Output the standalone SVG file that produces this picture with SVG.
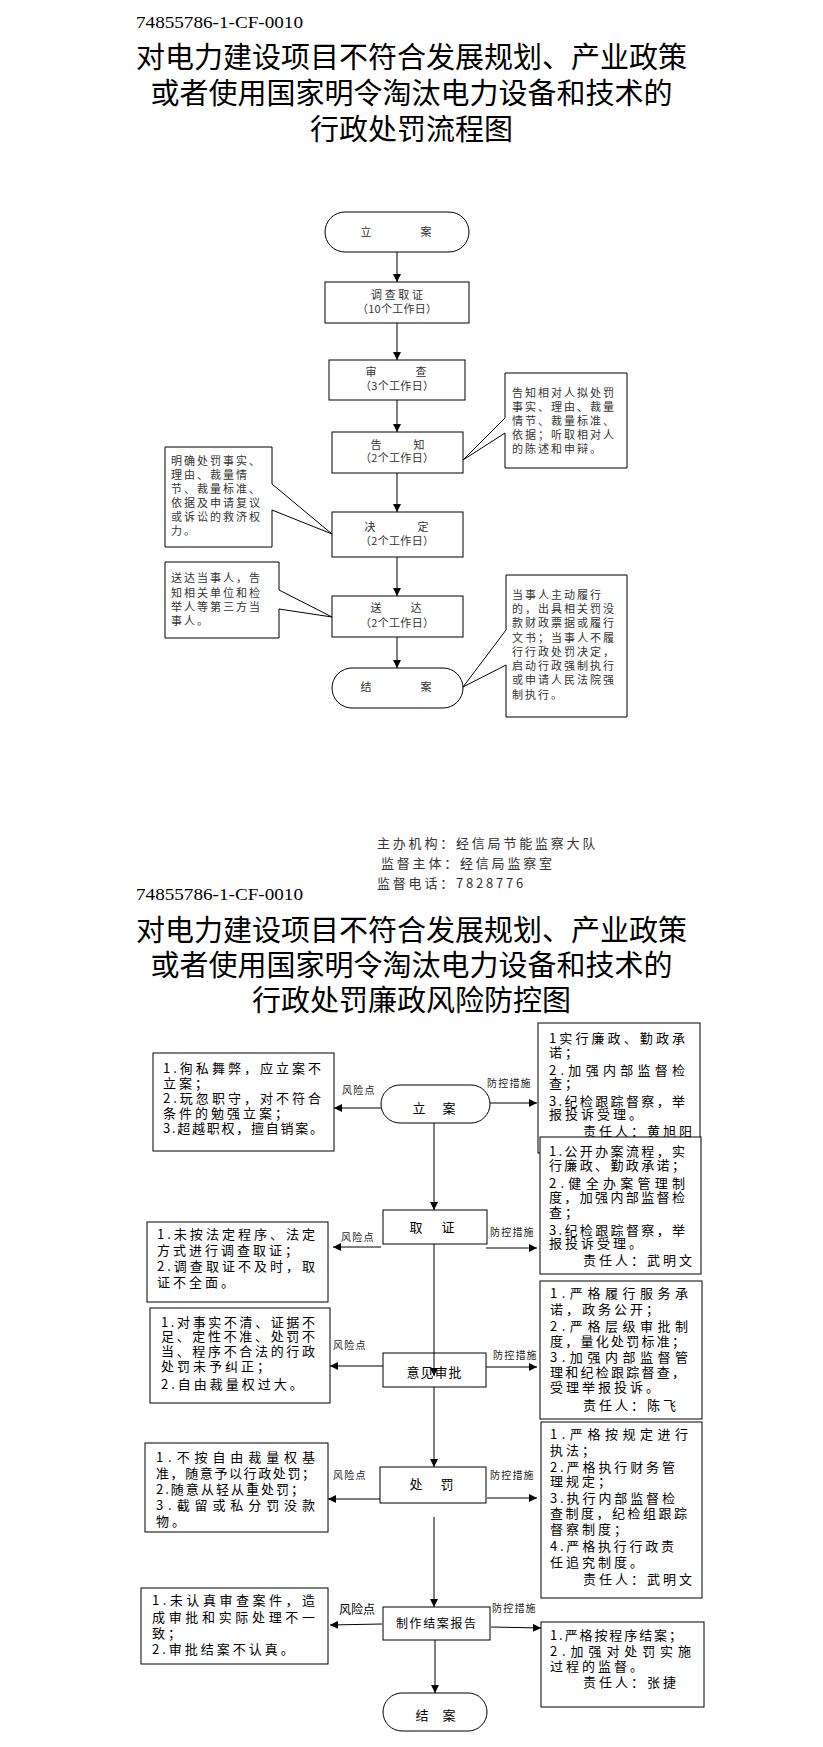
<svg xmlns="http://www.w3.org/2000/svg" width="823" height="1747" viewBox="0 0 823 1747">
<defs>
<style>
.cjk{font-family:"Noto Sans CJK SC",sans-serif}
.id{font-family:"Liberation Serif",serif;font-size:17px;fill:#000}
.ti{font-family:"Noto Sans CJK SC",sans-serif;font-size:29px;fill:#000;text-anchor:middle}
.bx{fill:#fff;stroke:#000;stroke-width:1}
.ln{fill:none;stroke:#000;stroke-width:1}
.t1{font-family:"Noto Sans CJK SC",sans-serif;font-size:11px;fill:#333;letter-spacing:2px}
.t1c{font-family:"Noto Sans CJK SC",sans-serif;font-size:11px;fill:#333;text-anchor:middle}
.ft{font-family:"Noto Sans CJK SC",sans-serif;font-size:13px;fill:#333;letter-spacing:2.8px}
.t2{font-family:"Noto Sans CJK SC",sans-serif;font-size:13px;fill:#000;letter-spacing:3px}
.lb{font-family:"Noto Sans CJK SC",sans-serif;font-size:13px;fill:#000;text-anchor:middle}
.sm{font-family:"Noto Sans CJK SC",sans-serif;font-size:10px;fill:#222;letter-spacing:1.2px}
</style>
<marker id="ah" viewBox="0 0 10 10" refX="10" refY="5" markerWidth="8" markerHeight="8" markerUnits="userSpaceOnUse" orient="auto"><path d="M0,0 L10,5 L0,10 z" fill="#000"/></marker>
</defs>
<rect width="823" height="1747" fill="#fff"/>

<!-- Page 1 header -->
<text class="id" x="136" y="28" textLength="167" lengthAdjust="spacingAndGlyphs">74855786-1-CF-0010</text>
<text class="ti" x="411.5" y="68">对电力建设项目不符合发展规划、产业政策</text>
<text class="ti" x="411.5" y="104">或者使用国家明令淘汰电力设备和技术的</text>
<text class="ti" x="411.5" y="140">行政处罚流程图</text>

<!-- Flow chart 1 nodes -->
<g id="f1-lian">
<rect class="bx" x="325" y="212" width="144" height="40" rx="20"/>
<text class="t1c" x="366" y="236">立</text><text class="t1c" x="426" y="236">案</text>
</g>
<g id="f1-diaocha">
<rect class="bx" x="325" y="282" width="144" height="41"/>
<text class="t1c" x="397" y="299" textLength="52">调查取证</text>
<text class="t1c" x="397" y="313" textLength="80">（10个工作日）</text>
</g>
<g id="f1-shencha">
<rect class="bx" x="329" y="360" width="136" height="40"/>
<text class="t1c" x="371" y="376">审</text><text class="t1c" x="421" y="376">查</text>
<text class="t1c" x="397" y="390" textLength="74">（3个工作日）</text>
</g>
<g id="f1-gaozhi">
<rect class="bx" x="332" y="432" width="131" height="41"/>
<text class="t1c" x="376" y="449">告</text><text class="t1c" x="419" y="449">知</text>
<text class="t1c" x="397" y="462" textLength="74">（2个工作日）</text>
</g>
<g id="f1-note-gaozhi">
<path class="bx" d="M505,373 H627 V468 H505 V433 L463,460 L505,418 Z"/>
<text class="t1" x="512" y="397">告知相对人拟处罚</text>
<text class="t1" x="512" y="411">事实、理由、裁量</text>
<text class="t1" x="512" y="425">情节、裁量标准、</text>
<text class="t1" x="512" y="439">依据；听取相对人</text>
<text class="t1" x="512" y="453">的陈述和申辩。</text>
</g>
<g id="f1-jueding">
<rect class="bx" x="332" y="512" width="131" height="45"/>
<text class="t1c" x="370" y="531">决</text><text class="t1c" x="423" y="531">定</text>
<text class="t1c" x="397" y="545" textLength="74">（2个工作日）</text>
</g>
<g id="f1-note-jueding">
<path class="bx" d="M165,447 H272 V484 L332,534 L272,510 V547 H165 Z"/>
<text class="t1" x="171" y="465">明确处罚事实、</text>
<text class="t1" x="171" y="479">理由、裁量情</text>
<text class="t1" x="171" y="493">节、裁量标准、</text>
<text class="t1" x="171" y="507">依据及申请复议</text>
<text class="t1" x="171" y="521">或诉讼的救济权</text>
<text class="t1" x="171" y="535">力。</text>
</g>
<g id="f1-songda">
<rect class="bx" x="332" y="596" width="131" height="41"/>
<text class="t1c" x="376" y="612">送</text><text class="t1c" x="416" y="612">达</text>
<text class="t1c" x="397" y="627" textLength="74">（2个工作日）</text>
</g>
<g id="f1-note-songda">
<path class="bx" d="M165,562 H279 V590 L332,617 L279,609 V638 H165 Z"/>
<text class="t1" x="171" y="582">送达当事人，告</text>
<text class="t1" x="171" y="597">知相关单位和检</text>
<text class="t1" x="171" y="611">举人等第三方当</text>
<text class="t1" x="171" y="625">事人。</text>
</g>
<g id="f1-jiean">
<rect class="bx" x="332" y="668" width="131" height="40" rx="20"/>
<text class="t1c" x="366" y="691">结</text><text class="t1c" x="426" y="691">案</text>
</g>
<g id="f1-note-jiean">
<path class="bx" d="M506,575 H627 V717 H506 V665 L463,687 L506,630 Z"/>
<text class="t1" x="512" y="599">当事人主动履行</text>
<text class="t1" x="512" y="613">的，出具相关罚没</text>
<text class="t1" x="512" y="627">款财政票据或履行</text>
<text class="t1" x="512" y="642">文书；当事人不履</text>
<text class="t1" x="512" y="656">行行政处罚决定，</text>
<text class="t1" x="512" y="670">启动行政强制执行</text>
<text class="t1" x="512" y="684">或申请人民法院强</text>
<text class="t1" x="512" y="699">制执行。</text>
</g>

<!-- Flow chart 1 connectors -->
<g id="f1-connectors">
<line class="ln" x1="397" y1="252" x2="397" y2="282" marker-end="url(#ah)"/>
<line class="ln" x1="397" y1="323" x2="397" y2="360" marker-end="url(#ah)"/>
<line class="ln" x1="397" y1="400" x2="397" y2="432" marker-end="url(#ah)"/>
<line class="ln" x1="397" y1="473" x2="397" y2="512" marker-end="url(#ah)"/>
<line class="ln" x1="397" y1="557" x2="397" y2="596" marker-end="url(#ah)"/>
<line class="ln" x1="397" y1="637" x2="397" y2="668" marker-end="url(#ah)"/>
</g>

<!-- Footer -->
<g id="footer">
<text class="ft" x="377" y="848">主办机构：经信局节能监察大队</text>
<text class="ft" x="381" y="868">监督主体：经信局监察室</text>
<text class="ft" x="377" y="888">监督电话：7828776</text>
</g>

<!-- Page 2 header -->
<text class="id" x="136" y="900" textLength="167" lengthAdjust="spacingAndGlyphs">74855786-1-CF-0010</text>
<text class="ti" x="411.5" y="941">对电力建设项目不符合发展规划、产业政策</text>
<text class="ti" x="411.5" y="976">或者使用国家明令淘汰电力设备和技术的</text>
<text class="ti" x="411.5" y="1011">行政处罚廉政风险防控图</text>

<!-- Risk chart nodes -->
<g id="r-lian">
<rect class="bx" x="381" y="1085" width="109" height="38" rx="19"/>
<text class="lb" x="419" y="1113">立</text><text class="lb" x="449" y="1113">案</text>
</g>
<g id="r-risk1">
<rect class="bx" x="153" y="1053" width="181" height="98"/>
<text class="t2" x="163" y="1073" textLength="161">1.徇私舞弊，应立案不</text>
<text class="t2" x="163" y="1088">立案；</text>
<text class="t2" x="163" y="1103" textLength="161">2.玩忽职守，对不符合</text>
<text class="t2" x="163" y="1118">条件的勉强立案；</text>
<text class="t2" x="163" y="1133" textLength="163">3.超越职权，擅自销案。</text>
</g>
<g id="r-ctrl1">
<rect class="bx" x="538" y="1023" width="162" height="130"/>
<text class="t2" x="549" y="1043" textLength="139">1实行廉政、勤政承</text>
<text class="t2" x="549" y="1057">诺；</text>
<text class="t2" x="549" y="1075" textLength="139">2.加强内部监督检</text>
<text class="t2" x="549" y="1088">查；</text>
<text class="t2" x="549" y="1106" textLength="139">3.纪检跟踪督察，举</text>
<text class="t2" x="549" y="1119">报投诉受理。</text>
<text class="t2" x="583" y="1136">责任人：黄旭阳</text>
</g>
<g id="r-ctrl2">
<rect class="bx" x="540" y="1137" width="161" height="137"/>
<text class="t2" x="549" y="1156" textLength="139">1.公开办案流程，实</text>
<text class="t2" x="549" y="1170" textLength="139">行廉政、勤政承诺；</text>
<text class="t2" x="549" y="1188" textLength="139">2.健全办案管理制</text>
<text class="t2" x="549" y="1202" textLength="139">度，加强内部监督检</text>
<text class="t2" x="549" y="1217">查；</text>
<text class="t2" x="549" y="1235" textLength="139">3.纪检跟踪督察，举</text>
<text class="t2" x="549" y="1248">报投诉受理。</text>
<text class="t2" x="583" y="1265">责任人：武明文</text>
</g>
<g id="r-quzheng">
<rect class="bx" x="383" y="1210" width="104" height="34"/>
<text class="lb" x="416" y="1232">取</text><text class="lb" x="448" y="1232">证</text>
</g>
<g id="r-risk2">
<rect class="bx" x="147" y="1222" width="181" height="80"/>
<text class="t2" x="157" y="1239" textLength="161">1.未按法定程序、法定</text>
<text class="t2" x="157" y="1255">方式进行调查取证；</text>
<text class="t2" x="157" y="1271" textLength="161">2.调查取证不及时，取</text>
<text class="t2" x="157" y="1287">证不全面。</text>
</g>
<g id="r-shenpi">
<rect class="bx" x="383" y="1353" width="103" height="34"/>
<text class="lb" x="434" y="1377" textLength="55">意见审批</text>
</g>
<g id="r-risk3">
<rect class="bx" x="150" y="1308" width="180" height="95"/>
<text class="t2" x="161" y="1327" textLength="157">1.对事实不清、证据不</text>
<text class="t2" x="161" y="1341" textLength="157">足、定性不准、处罚不</text>
<text class="t2" x="161" y="1356" textLength="157">当、程序不合法的行政</text>
<text class="t2" x="161" y="1371">处罚未予纠正；</text>
<text class="t2" x="161" y="1389">2.自由裁量权过大。</text>
</g>
<g id="r-ctrl3">
<rect class="bx" x="540" y="1281" width="162" height="138"/>
<text class="t2" x="550" y="1298" textLength="141">1.严格履行服务承</text>
<text class="t2" x="550" y="1314">诺，政务公开；</text>
<text class="t2" x="550" y="1331" textLength="141">2.严格层级审批制</text>
<text class="t2" x="550" y="1346" textLength="138">度，量化处罚标准；</text>
<text class="t2" x="550" y="1362" textLength="141">3.加强内部监督管</text>
<text class="t2" x="550" y="1377" textLength="138">理和纪检跟踪督查，</text>
<text class="t2" x="550" y="1392">受理举报投诉。</text>
<text class="t2" x="583" y="1410">责任人：陈飞</text>
</g>
<g id="r-chufa">
<rect class="bx" x="380" y="1467" width="106" height="36"/>
<text class="lb" x="416" y="1489">处</text><text class="lb" x="447" y="1489">罚</text>
</g>
<g id="r-risk4">
<rect class="bx" x="145" y="1443" width="183" height="89"/>
<text class="t2" x="156" y="1462" textLength="162">1.不按自由裁量权基</text>
<text class="t2" x="156" y="1478" textLength="162">准，随意予以行政处罚；</text>
<text class="t2" x="156" y="1494" textLength="151">2.随意从轻从重处罚；</text>
<text class="t2" x="156" y="1510" textLength="162">3.截留或私分罚没款</text>
<text class="t2" x="156" y="1526">物。</text>
</g>
<g id="r-ctrl4">
<rect class="bx" x="541" y="1422" width="161" height="176"/>
<text class="t2" x="550" y="1439" textLength="141">1.严格按规定进行</text>
<text class="t2" x="550" y="1455">执法；</text>
<text class="t2" x="550" y="1472" textLength="128">2.严格执行财务管</text>
<text class="t2" x="550" y="1486">理规定；</text>
<text class="t2" x="550" y="1503" textLength="128">3.执行内部监督检</text>
<text class="t2" x="550" y="1518" textLength="140">查制度，纪检组跟踪</text>
<text class="t2" x="550" y="1534">督察制度；</text>
<text class="t2" x="550" y="1551" textLength="127">4.严格执行行政责</text>
<text class="t2" x="550" y="1567">任追究制度。</text>
<text class="t2" x="583" y="1584">责任人：武明文</text>
</g>
<g id="r-baogao">
<rect class="bx" x="383" y="1607" width="107" height="33"/>
<text class="lb" x="436" y="1628" style="font-size:12px" textLength="80">制作结案报告</text>
</g>
<g id="r-risk5">
<rect class="bx" x="141" y="1588" width="187" height="76"/>
<text class="t2" x="152" y="1605" textLength="166">1.未认真审查案件，造</text>
<text class="t2" x="152" y="1622" textLength="166">成审批和实际处理不一</text>
<text class="t2" x="152" y="1638">致；</text>
<text class="t2" x="152" y="1654">2.审批结案不认真。</text>
</g>
<g id="r-ctrl5">
<rect class="bx" x="541" y="1622" width="163" height="85"/>
<text class="t2" x="550" y="1640" textLength="135">1.严格按程序结案；</text>
<text class="t2" x="550" y="1656" textLength="144">2.加强对处罚实施</text>
<text class="t2" x="550" y="1671">过程的监督。</text>
<text class="t2" x="583" y="1687">责任人：张捷</text>
</g>
<g id="r-jiean">
<rect class="bx" x="383" y="1693" width="104" height="38" rx="19"/>
<text class="lb" x="422" y="1720">结</text><text class="lb" x="449" y="1720">案</text>
</g>

<!-- Risk chart connectors and labels -->
<g id="r-connectors">
<line class="ln" x1="381" y1="1108" x2="334" y2="1108" marker-end="url(#ah)"/>
<line class="ln" x1="490" y1="1103" x2="537" y2="1103" marker-end="url(#ah)"/>
<line class="ln" x1="434" y1="1123" x2="434" y2="1210" marker-end="url(#ah)"/>
<line class="ln" x1="381" y1="1247" x2="333" y2="1247" marker-end="url(#ah)"/>
<line class="ln" x1="486" y1="1248" x2="537" y2="1248" marker-end="url(#ah)"/>
<line class="ln" x1="434" y1="1244" x2="434" y2="1376" marker-end="url(#ah)"/>
<line class="ln" x1="383" y1="1366" x2="330" y2="1366" marker-end="url(#ah)"/>
<line class="ln" x1="486" y1="1367" x2="537" y2="1367" marker-end="url(#ah)"/>
<line class="ln" x1="434" y1="1387" x2="434" y2="1467" marker-end="url(#ah)"/>
<line class="ln" x1="380" y1="1499" x2="328" y2="1499" marker-end="url(#ah)"/>
<line class="ln" x1="487" y1="1498" x2="537" y2="1498" marker-end="url(#ah)"/>
<line class="ln" x1="434" y1="1517" x2="434" y2="1607" marker-end="url(#ah)"/>
<line class="ln" x1="382" y1="1624" x2="330" y2="1625" marker-end="url(#ah)"/>
<line class="ln" x1="491" y1="1627" x2="541" y2="1628" marker-end="url(#ah)"/>
<line class="ln" x1="435" y1="1640" x2="435" y2="1693" marker-end="url(#ah)"/>
<text class="sm" x="342" y="1094">风险点</text>
<text class="sm" x="487" y="1087">防控措施</text>
<text class="sm" x="341" y="1241">风险点</text>
<text class="sm" x="490" y="1236">防控措施</text>
<text class="sm" x="333" y="1349">风险点</text>
<text class="sm" x="493" y="1359">防控措施</text>
<text class="sm" x="333" y="1479">风险点</text>
<text class="sm" x="490" y="1479">防控措施</text>
<text class="cjk" x="339" y="1614" style="font-size:12px;fill:#000">风险点</text>
<text class="sm" x="492" y="1612">防控措施</text>
</g>
</svg>
